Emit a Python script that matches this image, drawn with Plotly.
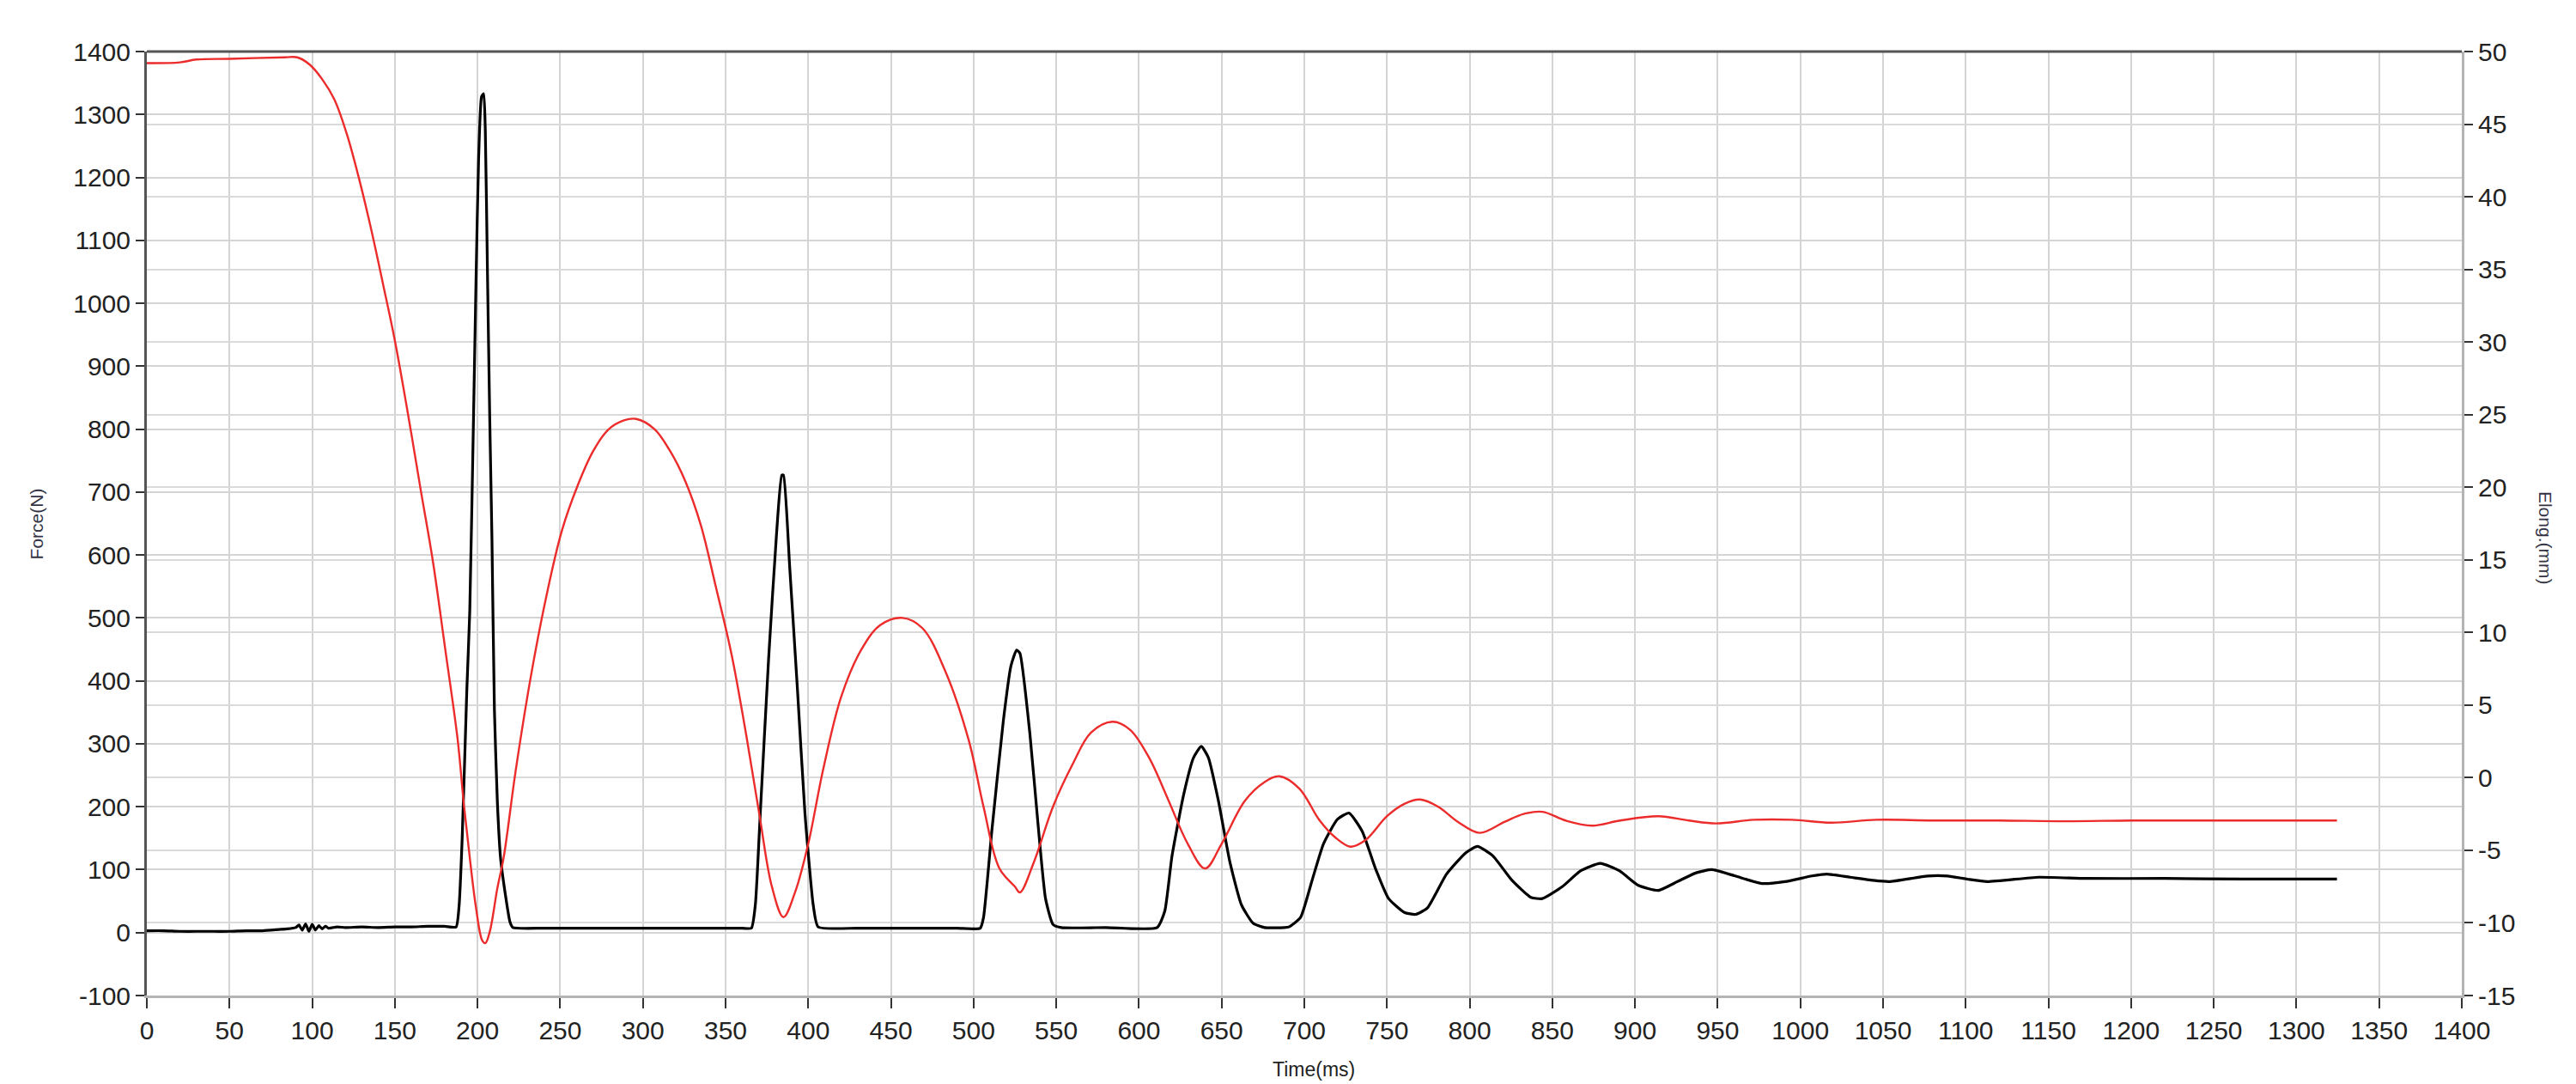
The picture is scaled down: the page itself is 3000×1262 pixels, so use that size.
import plotly.graph_objects as go

# ---- Force (N), left axis, black ----
force_t = [0, 10, 20, 30, 40, 50, 60, 70, 80, 85, 90, 92, 94, 96, 98, 100, 102, 104, 106, 108, 110,
           115, 120, 130, 140, 150, 160, 170, 180, 187, 188.8,
           190.7, 193.5, 195.3, 197.6, 199.1, 200.6, 202.4, 203.7, 204.7, 206, 207.4, 208.7, 210.2,
           212, 213.9, 216.8, 219.6, 221.4,
           240, 280, 320, 360, 365.6, 368, 371, 376, 380.7, 384, 385, 388.8, 393.5, 398, 403, 406,
           430, 460, 490, 504, 506, 511, 518, 522.6, 526, 528, 534, 539, 543.5, 548, 553,
           580, 611, 615.6, 620, 627, 633, 637.7, 642, 648, 655, 662, 669, 676, 688,
           690.7, 697.7, 704.7, 711.6, 720, 727, 735, 743, 751, 760.5, 767.4, 774.4, 786, 797.7,
           804.7, 814, 825.6, 837, 844, 856, 867, 879, 890.7, 902, 914, 925.6, 937, 946.5, 960.5,
           976.7, 990.7, 1007, 1016, 1030, 1044, 1053.6, 1077, 1089, 1101, 1113, 1144, 1172.6,
           1220, 1268, 1324.5]
force_v = [3, 3, 2, 2, 2, 2, 3, 3, 5, 6, 8, 12, 4, 14, 2, 13, 4, 11, 6, 10, 7,
           9, 8, 9, 8, 9, 9, 10, 10, 9, 41,
           149, 384, 511, 824, 1039, 1225, 1328, 1333, 1274, 1049, 814, 628, 354,
           207, 119, 61, 17, 8,
           7, 7, 7, 7, 7, 44, 190, 434, 629, 727, 727, 580, 385, 190, 44, 9,
           7, 7, 7, 7, 24, 161, 337, 424, 449, 444, 317, 171, 54, 13, 8,
           8, 8, 34, 122, 219, 278, 296, 278, 210, 112, 44, 15, 8, 8,
           9, 24, 83, 141, 180, 190, 161, 102, 54, 32, 29, 39, 93, 127,
           137, 122, 83, 56, 54, 73, 98, 110, 98, 75, 67, 81, 95, 100, 90,
           78, 81, 90, 93, 88, 83, 81, 90, 90, 85, 81, 88, 86,
           86, 85, 85]

# ---- Elongation (mm), right axis, red ----
elong_t = [0, 20, 30, 50, 83.6, 91, 98.5, 106, 113.4, 121, 128, 135.8, 143, 150, 158, 165.5, 173,
           180.4, 188, 191.6, 195.3, 199, 202.8, 204.7, 207.4, 212, 215.8, 223, 232.6, 242, 251,
           260.5, 270, 279, 288.5, 296, 307, 316.4, 325.7, 335, 344, 353.6, 363, 370.4,
           378, 385, 392, 400, 409, 420, 432, 443.5, 457, 469, 483, 497, 506, 515.6, 525, 528,
           536.5, 548, 560, 571, 584, 594.6, 606, 618, 629.5, 640, 650, 664, 676, 685, 697,
           709, 718.6, 728, 737, 750, 760.5, 770, 781, 793, 806, 821, 832.6, 844, 858, 874,
           891, 914, 932.6, 949, 972, 995, 1018.6, 1046, 1080, 1120, 1160, 1200, 1240, 1280,
           1324.5]
elong_v = [49.2, 49.25, 49.45, 49.5, 49.6, 49.6, 49.1, 48.1, 46.7, 44.3, 41.4, 37.7, 33.9, 30.1,
           25.0, 19.9, 14.9,
           8.9, 2.6, -1.7, -5.5, -8.9, -11.2, -11.4, -10.6, -7.6, -5.5, 0.43, 7.2, 12.7, 17.0,
           20.1, 22.5, 23.96, 24.6, 24.7, 24.0, 22.5, 20.4, 17.4, 13.2, 8.5, 2.6, -2.5,
           -7.5, -9.6, -7.9, -4.55, 0.56, 5.6, 8.8, 10.5, 11.0, 10.3, 7.3, 2.6, -2.0, -6.25, -7.5,
           -7.9,
           -5.8, -2.0, 0.95, 3.1, 3.85, 3.3, 1.4, -1.6, -4.55, -6.25, -4.55, -1.6, -0.3, 0.1, -0.75,
           -2.9, -4.1, -4.75, -4.3, -2.65, -1.8, -1.5, -2.0, -3.05, -3.8, -3.05, -2.5, -2.35, -2.95,
           -3.3,
           -2.95, -2.65, -2.95, -3.15, -2.9, -2.9, -3.1, -2.9, -2.95, -2.95, -3.0, -2.95, -2.95,
           -2.95, -2.95]

x_ticks = list(range(0, 1401, 50))
y_ticks = list(range(-100, 1401, 100))
y2_ticks = list(range(-15, 51, 5))

fig = go.Figure()
fig.add_trace(go.Scatter(x=force_t, y=force_v, mode="lines", name="Force",
                         line=dict(color="#000000", width=3.2, shape="spline", smoothing=0.5),
                         yaxis="y"))
fig.add_trace(go.Scatter(x=elong_t, y=elong_v, mode="lines", name="Elong",
                         line=dict(color="#ec2b2b", width=2.4, shape="spline", smoothing=1.0),
                         yaxis="y2"))

tickfont = dict(family="Liberation Sans, Arial, sans-serif", size=30, color="#222222")
xtickfont = dict(family="Liberation Sans Narrow, Arial Narrow, Liberation Sans, sans-serif",
                 size=30, color="#222222")

fig.update_layout(
    width=3000, height=1262,
    margin=dict(l=163, r=141, t=52, b=111),
    paper_bgcolor="white", plot_bgcolor="white",
    showlegend=False,
    xaxis=dict(range=[0, 1400], tickvals=x_ticks, ticktext=[str(v) for v in x_ticks],
               showgrid=True, gridcolor="#d4d4d4", gridwidth=2, zeroline=False,
               showline=True, linecolor="#b4b4b4", linewidth=3,
               ticks="outside", ticklen=12, tickwidth=2, tickcolor="#333333",
               tickfont=xtickfont),
    yaxis=dict(range=[-100, 1400], tickvals=y_ticks, ticktext=[str(v) for v in y_ticks],
               showgrid=True, gridcolor="#d4d4d4", gridwidth=2, zeroline=False,
               showline=True, linecolor="#555555", linewidth=3,
               ticks="outside", ticklen=10, tickwidth=2, tickcolor="#333333",
               tickfont=tickfont),
    yaxis2=dict(range=[-15, 50], tickvals=y2_ticks, ticktext=[str(v) for v in y2_ticks],
                overlaying="y", side="right",
                showgrid=True, gridcolor="#dadada", gridwidth=2, zeroline=False,
                showline=True, linecolor="#b4b4b4", linewidth=3,
                ticks="outside", ticklen=10, tickwidth=2, tickcolor="#333333",
                tickfont=tickfont),
    shapes=[dict(type="line", xref="paper", yref="paper", x0=0, x1=1, y0=1, y1=1,
                 line=dict(color="#555555", width=3))],
    annotations=[
        dict(text="Force(N)", xref="paper", yref="paper", x=-0.0475, y=0.5,
             xanchor="center", yanchor="middle", textangle=-90, showarrow=False,
             font=dict(family="Liberation Sans, Arial, sans-serif", size=21, color="#333344")),
        dict(text="Elong.(mm)", xref="paper", yref="paper", x=1.036, y=0.485,
             xanchor="center", yanchor="middle", textangle=90, showarrow=False,
             font=dict(family="Liberation Sans, Arial, sans-serif", size=21, color="#333344")),
        dict(text="Time(ms)", xref="paper", yref="paper", x=0.504, y=-0.078,
             xanchor="center", yanchor="middle", showarrow=False,
             font=dict(family="Liberation Sans Narrow, Arial Narrow, Liberation Sans, sans-serif",
                       size=23, color="#222222")),
    ],
)

fig.write_html("out.html")
